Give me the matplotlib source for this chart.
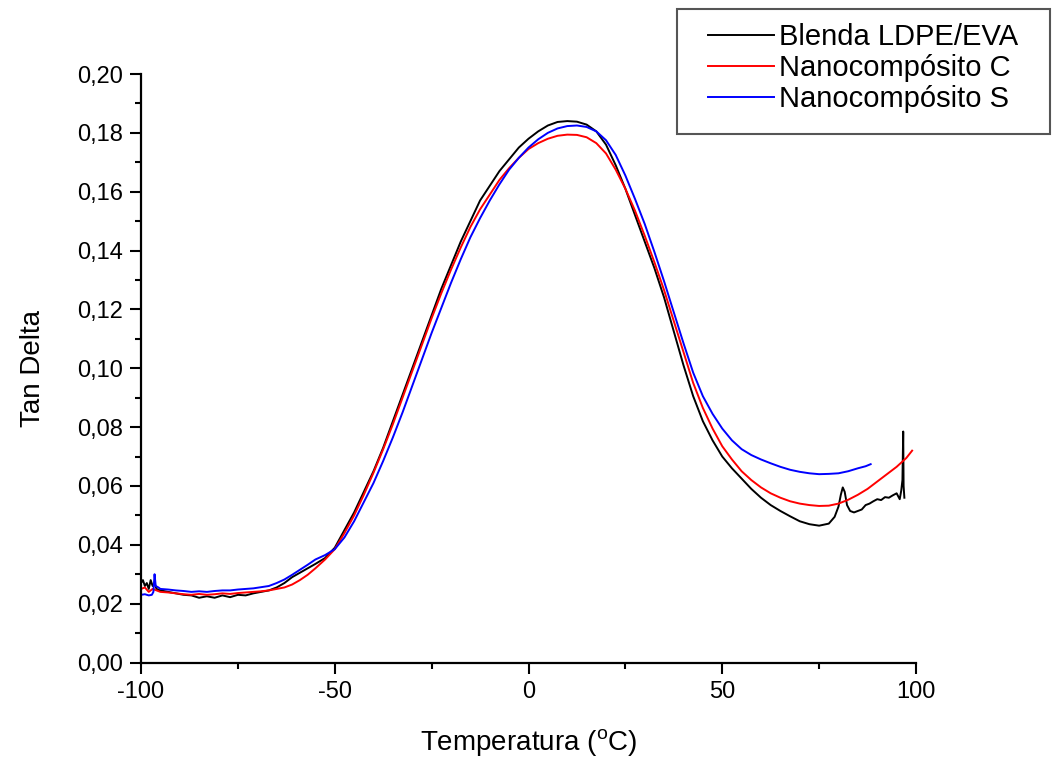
import matplotlib
matplotlib.use("Agg")
import matplotlib.pyplot as plt
from matplotlib.ticker import MultipleLocator, FuncFormatter
from matplotlib.patches import Rectangle

plt.rcParams['font.family'] = ['Liberation Sans', 'DejaVu Sans']
plt.rcParams['mathtext.fontset'] = 'custom'
plt.rcParams['mathtext.rm'] = 'Liberation Sans'

# ---------------- data ----------------
temp_blenda = [-100, -99.5, -99, -98.5, -98, -97.5, -97, -96.5, -96, -95, -93, -91, -89, -87, -85,
               -83, -81, -79, -77, -75, -73, -71, -69, -67, -65, -63, -61, -59, -57, -55, -52.5,
               -50, -47.5, -45, -42.5, -40, -37.5, -35, -32.5, -30, -27.5, -25, -22.5, -20, -17.5,
               -15, -12.5, -10, -7.5, -5, -2.5, 0, 2.5, 5, 7.5, 10, 12.5, 15, 17.5, 20, 22.5, 25,
               27.5, 30, 32.5, 35, 37.5, 40, 42.5, 45, 47.5, 50, 52.5, 55, 57.5, 60, 62.5, 65,
               67.5, 70, 72.5, 75, 77.5, 79, 80, 80.6, 81.1, 81.6, 82.2, 83, 84, 85, 86, 87, 88,
               89, 90, 91, 92, 93, 94, 95, 95.8, 96.2, 96.5, 96.7, 96.8, 97]
tan_blenda = [0.027, 0.028, 0.026, 0.027, 0.025, 0.028, 0.026, 0.027, 0.025, 0.0245, 0.024, 0.0235,
              0.023, 0.0228, 0.022, 0.0225, 0.022, 0.0228, 0.0222, 0.023, 0.0228, 0.0235, 0.024,
              0.0245, 0.0255, 0.027, 0.029, 0.0305, 0.032, 0.0335, 0.0355,
              0.039, 0.045, 0.051, 0.058, 0.065, 0.073, 0.082, 0.091, 0.100, 0.109, 0.118, 0.127,
              0.135, 0.143, 0.150, 0.157, 0.162, 0.167, 0.171, 0.175, 0.178, 0.1805, 0.1825,
              0.1837, 0.184, 0.1838, 0.1828, 0.1805, 0.176, 0.169, 0.161, 0.152, 0.143, 0.134,
              0.124, 0.1125, 0.101, 0.0905, 0.082, 0.0755, 0.070, 0.066, 0.0625, 0.059, 0.056,
              0.0535, 0.0515, 0.0497, 0.048, 0.047, 0.0465, 0.0472, 0.0495, 0.053, 0.057, 0.0595,
              0.058, 0.0535, 0.0515, 0.051, 0.0515, 0.052, 0.0535, 0.054, 0.0548, 0.0555, 0.0552,
              0.0562, 0.056, 0.0568, 0.0575, 0.0555, 0.0585, 0.062, 0.0785, 0.060, 0.056]

temp_nano_c = [-100, -99, -98, -97, -96, -95, -93, -91, -89, -87, -85, -83, -81, -79, -77, -75, -73,
               -71, -69, -67, -65, -63, -61, -59, -57, -55, -52.5, -50, -47.5, -45, -42.5, -40,
               -37.5, -35, -32.5, -30, -27.5, -25, -22.5, -20, -17.5, -15, -12.5, -10, -7.5, -5,
               -2.5, 0, 2.5, 5, 7.5, 10, 12.5, 15, 17.5, 20, 22.5, 25, 27.5, 30, 32.5, 35, 37.5,
               40, 42.5, 45, 47.5, 50, 52.5, 55, 57.5, 60, 62.5, 65, 67.5, 70, 72.5, 75, 77.5, 80,
               82.5, 85, 87.5, 90, 92.5, 95, 97.5, 99]
tan_nano_c = [0.025, 0.0255, 0.024, 0.025, 0.0245, 0.024, 0.0238, 0.0235, 0.0232, 0.023, 0.0233,
              0.023, 0.0232, 0.0235, 0.0233, 0.0236, 0.0238, 0.024, 0.0242, 0.0245, 0.025, 0.0255,
              0.0265, 0.028, 0.0298, 0.032, 0.035, 0.0385, 0.044, 0.050, 0.057, 0.0645, 0.0725,
              0.081, 0.090, 0.099, 0.108, 0.117, 0.1255, 0.1335, 0.141, 0.148, 0.154, 0.159, 0.164,
              0.168, 0.1715, 0.1745, 0.1765, 0.178, 0.179, 0.1794, 0.1793, 0.1785, 0.1765, 0.173,
              0.1675, 0.161, 0.1535, 0.145, 0.136, 0.1265, 0.116, 0.1055, 0.095, 0.0865, 0.0795,
              0.0735, 0.069, 0.065, 0.062, 0.0595, 0.0575, 0.056, 0.0548, 0.054, 0.0535, 0.0532,
              0.0533, 0.054, 0.0553, 0.057, 0.059, 0.0615, 0.064, 0.0665, 0.0695, 0.072]

temp_nano_s = [-100, -99, -98, -97.2, -96.8, -96.5, -96.2, -95.5, -95, -93, -91, -89, -87, -85, -83,
               -81, -79, -77, -75, -73, -71, -69, -67, -65, -63, -61, -59, -57, -55, -52.5, -50,
               -47.5, -45, -42.5, -40, -37.5, -35, -32.5, -30, -27.5, -25, -22.5, -20, -17.5, -15,
               -12.5, -10, -7.5, -5, -2.5, 0, 2.5, 5, 7.5, 10, 12.5, 15, 17.5, 20, 22.5, 25, 27.5,
               30, 32.5, 35, 37.5, 40, 42.5, 45, 47.5, 50, 52.5, 55, 57.5, 60, 62.5, 65, 67.5, 70,
               72.5, 75, 77.5, 80, 82.5, 85, 87, 88.3]
tan_nano_s = [0.023, 0.0232, 0.0228, 0.023, 0.024, 0.030, 0.026, 0.0255, 0.025, 0.0248, 0.0245,
              0.0243, 0.024, 0.0242, 0.024, 0.0243, 0.0245, 0.0245, 0.0248, 0.025, 0.0252, 0.0256,
              0.026, 0.027, 0.0282, 0.0298, 0.0315, 0.0332, 0.035, 0.0365, 0.0385, 0.0425, 0.048,
              0.0545, 0.061, 0.0685, 0.0765, 0.085, 0.094, 0.103, 0.112, 0.1205, 0.129, 0.137,
              0.1445, 0.151, 0.157, 0.1625, 0.1675, 0.1715, 0.175, 0.1778, 0.180, 0.1815, 0.1823,
              0.1825, 0.182, 0.1805, 0.1775, 0.1725, 0.1655, 0.1575, 0.149, 0.1395, 0.1295, 0.119,
              0.1085, 0.0985, 0.0905, 0.0845, 0.0795, 0.0755, 0.0725, 0.0705, 0.069, 0.0677,
              0.0665, 0.0655, 0.0648, 0.0643, 0.064, 0.0641, 0.0643, 0.065, 0.066, 0.0667, 0.0674]

series_labels = ['Blenda LDPE/EVA', 'Nanocompósito C', 'Nanocompósito S']
series_colors = ['#000000', '#ff0000', '#0000ff']
x_label = r'Temperatura ($^{\mathrm{o}}$C)'
y_label = 'Tan Delta'

# ---------------- figure ----------------
W, H = 1053, 758
fig = plt.figure(figsize=(W / 100, H / 100), dpi=100)
ax = fig.add_axes([141 / W, 1 - 662.5 / H, (916 - 141) / W, (662.5 - 74) / H])

for t, v, lab, col in zip([temp_blenda, temp_nano_c, temp_nano_s],
                          [tan_blenda, tan_nano_c, tan_nano_s],
                          series_labels, series_colors):
    ax.plot(t, v, color=col, lw=1.4, label=lab)

ax.set_xlim(-100, 100)
ax.set_ylim(0, 0.20)
ax.xaxis.set_major_locator(MultipleLocator(50))
ax.xaxis.set_minor_locator(MultipleLocator(25))
ax.yaxis.set_major_locator(MultipleLocator(0.02))
ax.yaxis.set_minor_locator(MultipleLocator(0.01))
ax.yaxis.set_major_formatter(FuncFormatter(lambda v, p: f"{v:.2f}".replace('.', ',')))
ax.xaxis.set_major_formatter(FuncFormatter(lambda v, p: f"{v:.0f}"))

for s in ['top', 'right']:
    ax.spines[s].set_visible(False)
for s in ['left', 'bottom']:
    ax.spines[s].set_linewidth(1.6)

ax.tick_params(which='major', direction='out', length=8, width=1.5, labelsize=17, pad=5)
ax.tick_params(which='minor', direction='out', length=4, width=1.5)

ax.set_xlabel(x_label, fontsize=20, labelpad=18)
ax.set_ylabel(y_label, fontsize=20, labelpad=22)

# legend frame drawn explicitly, legend entries placed inside it
fig.patches.append(Rectangle((677 / W, 1 - 134 / H), (1050 - 677) / W, (134 - 9) / H,
                             transform=fig.transFigure, facecolor='white',
                             edgecolor='#555555', linewidth=1.5, zorder=5))
leg = fig.legend(loc='upper left', bbox_to_anchor=(708 / W, 1 - 23 / H),
                 fontsize=21, frameon=False, handlelength=2.25, handletextpad=0.18,
                 labelspacing=0.1, borderpad=0, borderaxespad=0)
leg.set_zorder(6)
for line in leg.get_lines():
    line.set_linewidth(1.4)

fig.savefig('out.png', dpi=100)
